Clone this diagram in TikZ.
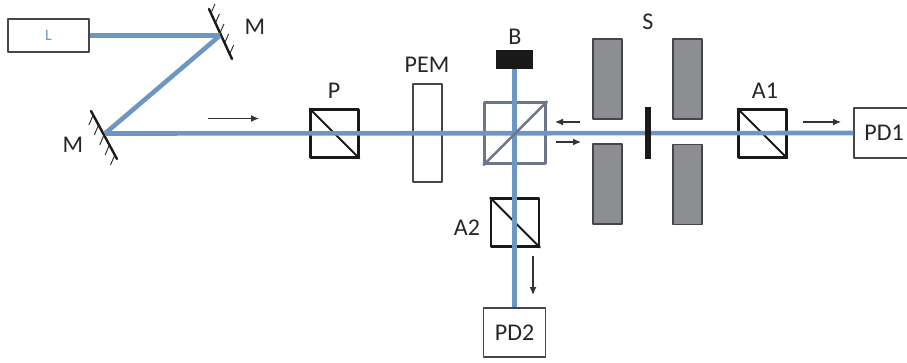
\documentclass[tikz,border=0pt]{standalone}
\usepackage{fontspec}
\setmainfont{Carlito}
\usetikzlibrary{arrows.meta}
\definecolor{beamblue}{RGB}{110,150,195}
\definecolor{blockgray}{RGB}{140,142,146}
\definecolor{splitgray}{RGB}{108,120,138}
\definecolor{edgegray}{RGB}{70,70,72}
\tikzset{
  beam/.style={draw=beamblue,line width=4.6pt,line cap=butt},
  box/.style={draw=edgegray,line width=1.2pt,fill=white,inner sep=0pt,font=\fontsize{24}{26}\selectfont,text=black!85},
  cube/.style={draw=black!90,line width=2.3pt,inner sep=0pt,minimum width=48pt,minimum height=48pt},
  block/.style={draw=edgegray,line width=1.2pt,fill=blockgray,inner sep=0pt,minimum width=29pt,minimum height=80pt},
  lab/.style={inner sep=0pt,font=\fontsize{24}{26}\selectfont,text=black!85},
  dir/.style={draw=black!80,line width=1.2pt,-{Latex[length=8pt,width=7pt]}},
  mirror/.style={draw=black!90,line width=2.4pt,line cap=round},
  hatch/.style={draw=black!85,line width=.9pt}
}
\begin{document}
\begin{tikzpicture}[x=1pt,y=-1pt,line join=round]
  \clip (0,0) rectangle (907,363);

  % ---- reference values (image pixels) ----
  \def\diagW{2pt}       % diagonals of the cubes

  % ---- boxes under the beam ----
  \node[box,minimum width=81pt,minimum height=33pt,font=\fontsize{16}{18}\selectfont,text=beamblue] (laser) at (48.5,35.5) {L};
  \node[box,minimum width=29pt,minimum height=98pt] (pem) at (427.5,133) {};
  \node[box,minimum width=62pt,minimum height=49pt] (pdb) at (514.5,332.5) {PD2};
  \node[box,minimum width=60pt,minimum height=50pt,text width=52pt,align=center] (pda) at (884,133) {PD1};
  \node[fill=black!90,inner sep=0pt,minimum width=37pt,minimum height=19pt] (dump) at (514.5,59.5) {};
  \node[cube] (pol) at (334.5,133.5) {};
  \node[cube] (anaa) at (762.5,133.5) {};
  \node[cube] (anab) at (515,222.5) {};
  \node[cube,draw=splitgray,line width=3.2pt,minimum width=61pt,minimum height=61pt] (split) at (515.3,133.3) {};

  % ---- diagonals of the polarizers ----
  \draw[line width=\diagW,draw=black!90] (pol.north west) -- (pol.south east);
  \draw[line width=\diagW,draw=black!90] (anaa.north west) -- (anaa.south east);
  \draw[line width=\diagW,draw=black!90] (anab.north west) -- (anab.south east);

  % ---- mirrors ----
  \coordinate (mirup) at (220,35.5);
  \coordinate (mirlow) at (105,133.5);
  \draw[mirror] (209,9) -- (232,59);
  \draw[mirror] (91,111) -- (117,159);
  \foreach \hx/\hy in {211/13,215.4/23,220/33,224.6/43,229.7/54}
    \draw[hatch] (\hx,\hy) -- ++(4,-9);
  \foreach \hx/\hy in {93.2/115,98.6/125,104/135,109.4/145,114.8/155}
    \draw[hatch] (\hx,\hy) -- ++(-4.3,10);

  % ---- beams ----
  \draw[beam] (laser.east) -- (mirup);
  \draw[beam] (mirup) -- (mirlow);
  \draw[beam] (mirlow) -- (pda.west);
  \draw[beam] (dump.south) -- (pdb.north);

  % ---- splitter diagonal on top of the beams ----
  \draw[line width=2.4pt,draw=splitgray] (split.south west) -- (split.north east);

  % ---- slits and sample ----
  \node[block] (slitul) at (607.5,79) {};
  \node[block] (slitll) at (607.5,184) {};
  \node[block] (slitur) at (687.5,79) {};
  \node[block] (slitlr) at (687.5,184.5) {};
  \node[fill=black!90,inner sep=0pt,minimum width=6pt,minimum height=52pt] (sample) at (648,133) {};

  % ---- direction arrows ----
  \draw[dir] (208,118.5) -- (259,118.5);
  \draw[dir] (580,122) -- (555,122);
  \draw[dir] (556,142) -- (581,142);
  \draw[dir] (803,122) -- (841,122);
  \draw[dir] (533,256) -- (533,295);

  % ---- labels ----
  \node[lab] (lblma) at (255,27) {M};
  \node[lab] (lblmb) at (73,145) {M};
  \node[lab] (lblp) at (334,91) {P};
  \node[lab] (lblpem) at (427,65) {PEM};
  \node[lab] (lblb) at (515,37) {B};
  \node[lab] (lbls) at (648,22) {S};
  \node[lab] (lblaa) at (765,91) {A1};
  \node[lab] (lblab) at (467,228) {A2};
\end{tikzpicture}
\end{document}
